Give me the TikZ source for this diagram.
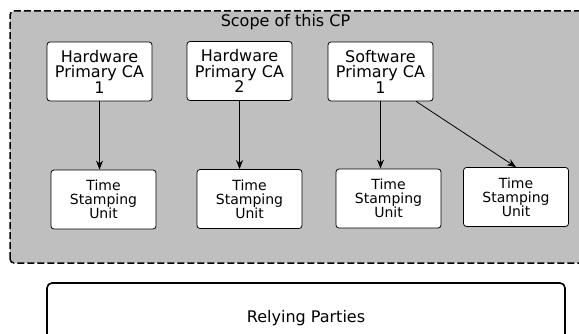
\documentclass[tikz,border=0pt]{standalone}
\usepackage{fontspec}
\setmainfont{DejaVu Sans}
\usetikzlibrary{arrows.meta}
\definecolor{cpgray}{gray}{0.75}

\begin{document}
\begin{tikzpicture}[x=1pt,y=1pt]
        \tikzset{cabox/.style={draw,fill=white,rounded corners=3pt,line width=0.8pt,
                minimum width=105pt,minimum height=59pt,align=center,
                font=\fontsize{16}{15.5}\selectfont},
            tsubox/.style={cabox,font=\fontsize{14}{14}\selectfont},
            partybox/.style={draw,fill=white,rounded corners=5pt,line width=1.6pt,
                minimum width=518pt,minimum height=70pt,font=\fontsize{16}{18}\selectfont},
            cpregion/.style={draw,fill=cpgray,rounded corners=4pt,line width=1.5pt,
                dash pattern=on 7pt off 3pt},
            link/.style={draw,line width=0.8pt,-{Stealth[length=9pt,width=7pt]}}}
        \useasboundingbox (0,0) rectangle (579,333);
        \path[cpregion] (10,70) rectangle (600,322);
        \node[font=\fontsize{16}{18}\selectfont,anchor=base] (cptitle) at (285.5,306) {Scope of this CP};
        % primary CAs
        \node[cabox] (hw1) at (99.5,261.5) {Hardware\\Primary CA\\1};
        \node[cabox] (hw2) at (239.5,262) {Hardware\\Primary CA\\2};
        \node[cabox] (sw1) at (380.5,261.5) {Software\\Primary CA\\1};
        % time stamping units
        \node[tsubox] (tsu1) at (103.5,133.5) {Time\\Stamping\\Unit};
        \node[tsubox] (tsu2) at (249.5,134) {Time\\Stamping\\Unit};
        \node[tsubox] (tsu3) at (388.5,134.5) {Time\\Stamping\\Unit};
        \node[tsubox] (tsu4) at (516,136) {Time\\Stamping\\Unit};
        \draw[link] (hw1.south) -- (hw1.south |- tsu1.north);
        \draw[link] (hw2.south) -- (hw2.south |- tsu2.north);
        \draw[link] (sw1.south) -- (sw1.south |- tsu3.north);
        \draw[link] (sw1.-40) -- (tsu4.north);
        \node[partybox] (rp) at (306,15) {Relying Parties};
    \end{tikzpicture}
\end{document}
